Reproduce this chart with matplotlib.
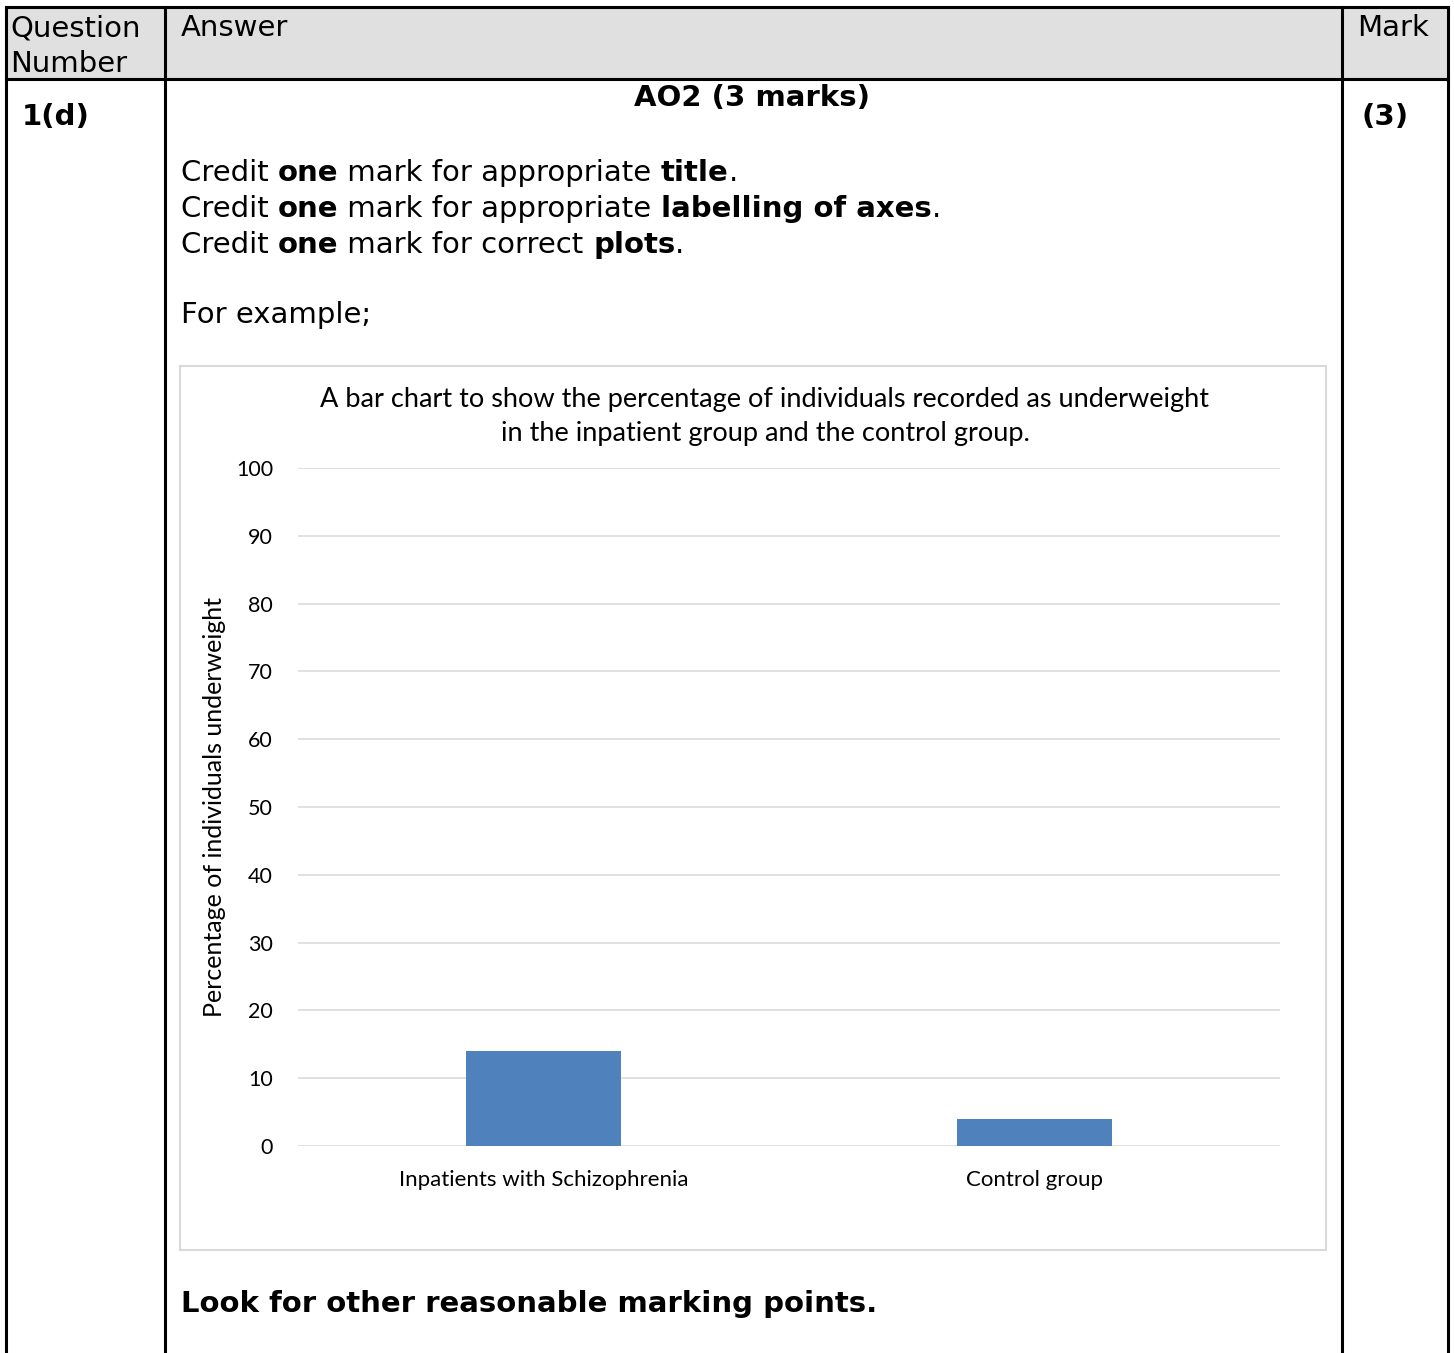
import matplotlib
matplotlib.use("Agg")
import matplotlib.pyplot as plt
from matplotlib.patches import Rectangle

# chart data
categories = ["Inpatients with Schizophrenia", "Control group"]
percent_underweight = [14, 4]
y_ticks = [0, 10, 20, 30, 40, 50, 60, 70, 80, 90, 100]

chart_title = ("A bar chart to show the percentage of individuals recorded as underweight\n"
               "in the inpatient group and the control group.")
y_label = "Percentage of individuals underweight"

# mark scheme text (text, bold?)
credit_lines = [
    [("Credit ", False), ("one", True), (" mark for appropriate ", False), ("title", True), (".", False)],
    [("Credit ", False), ("one", True), (" mark for appropriate ", False), ("labelling of axes", True), (".", False)],
    [("Credit ", False), ("one", True), (" mark for correct ", False), ("plots", True), (".", False)],
]

W, H = 1454, 1353
fig = plt.figure(figsize=(W / 100, H / 100), dpi=100)
fig.patch.set_facecolor("white")

# full page axes in pixel units (y down)
page = fig.add_axes([0, 0, 1, 1])
page.set_xlim(0, W)
page.set_ylim(H, 0)
page.axis("off")

body_font = "DejaVu Sans"
bs = 21  # body size

# table header fill and grid lines
page.add_patch(Rectangle((6, 7), 1442, 72, facecolor="#e0e0e0", edgecolor="none"))
lw = 2.2
page.plot([6, 1448], [7, 7], color="black", lw=lw)
page.plot([6, 1448], [79, 79], color="black", lw=lw)
for xv in [6, 165, 1342, 1448]:
    page.plot([xv, xv], [7, H], color="black", lw=lw)

page.text(10, 36, "Question", fontsize=bs, family=body_font, va="baseline")
page.text(10, 72, "Number", fontsize=bs, family=body_font, va="baseline")
page.text(181, 36, "Answer", fontsize=bs, family=body_font, va="baseline")
page.text(1357, 36, "Mark", fontsize=bs, family=body_font, va="baseline")

page.text(22, 125, "1(d)", fontsize=bs, family=body_font, weight="bold", va="baseline")
page.text(1362, 125, "(3)", fontsize=bs, family=body_font, weight="bold", va="baseline")
page.text(752, 106, "AO2 (3 marks)", fontsize=bs, family=body_font, weight="bold",
          va="baseline", ha="center")

renderer = fig.canvas.get_renderer()


def width_px(s, bold):
    # advance width of a string (spaces included), measured between two sentinels
    wt = "bold" if bold else "normal"
    t1 = page.text(0, 0, "|" + s + "|", fontsize=bs, family=body_font, weight=wt)
    t2 = page.text(0, 0, "||", fontsize=bs, family=body_font, weight=wt)
    w = t1.get_window_extent(renderer).width - t2.get_window_extent(renderer).width
    t1.remove()
    t2.remove()
    return w


def rich_line(x, y, parts):
    for s, bold in parts:
        page.text(x, y, s, fontsize=bs, family=body_font, weight="bold" if bold else "normal",
                  va="baseline")
        x += width_px(s, bold)


for i, parts in enumerate(credit_lines):
    rich_line(181, 181 + i * 36, parts)
page.text(181, 323, "For example;", fontsize=bs, family=body_font, va="baseline")
page.text(181, 1312, "Look for other reasonable marking points.", fontsize=bs,
          family=body_font, weight="bold", va="baseline")

# chart frame
page.add_patch(Rectangle((180, 366), 1146, 884, facecolor="white", edgecolor="#d9d9d9", lw=1.5))

cfont = "Lato"
page.text(765, 416, chart_title, fontsize=19.5, family=cfont, ha="center", va="center",
          linespacing=1.45)

# the bar chart itself
ax = fig.add_axes([298 / W, 1 - 1146 / H, 982 / W, 678 / H])
x = range(len(categories))
ax.bar(x, percent_underweight, width=0.314, color="#4f81bd", zorder=3)
ax.set_xlim(-0.5, len(categories) - 0.5)
ax.set_ylim(0, 100)
ax.set_yticks(y_ticks)
ax.set_xticks(list(x))
ax.set_xticklabels(categories)
ax.grid(axis="y", color="#d9d9d9", lw=1.1, zorder=0)
for sp in ax.spines.values():
    sp.set_visible(False)
ax.tick_params(length=0)
ax.tick_params(axis="y", pad=18, labelsize=15.5)
ax.tick_params(axis="x", pad=17, labelsize=16)
for lab in ax.get_xticklabels() + ax.get_yticklabels():
    lab.set_family(cfont)
ax.set_ylabel(y_label, fontsize=18, family=cfont, labelpad=7)
ax.patch.set_alpha(0)

fig.savefig("out.png", dpi=100)
